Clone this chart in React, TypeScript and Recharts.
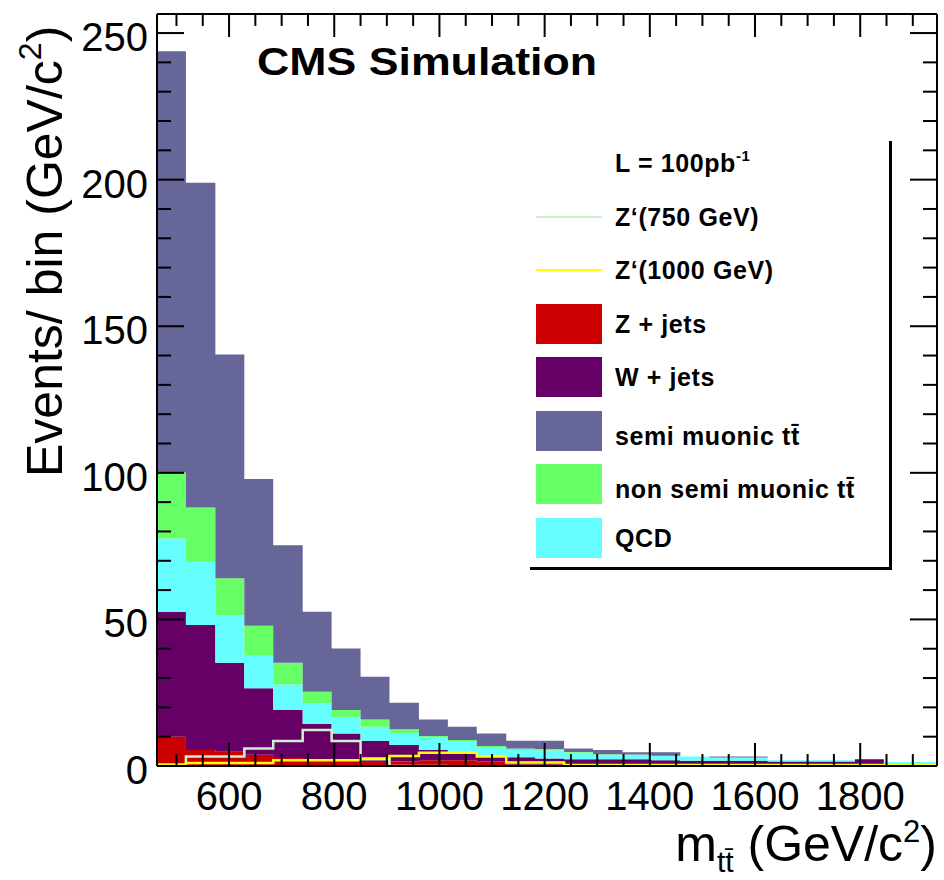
import React from 'react';
import { ComposedChart, Area, Line, Scatter, XAxis, YAxis, Legend } from 'recharts';

// lower bin edges in GeV (last entry closes the final bin)
const binEdges = [
  463, 518, 574, 629, 684, 740, 795, 850, 905, 961, 1016, 1071, 1127, 1182,
  1237, 1292, 1348, 1403, 1458, 1514, 1569, 1624, 1679, 1735, 1790, 1845, 1901, 1956,
];

// per-bin contributions, bottom of the stack first
const zJets = [10, 5.5, 4.9, 3.8, 2.7, 2.0, 2.0, 1.7, 1.5, 2.0, 2.0, 1.5, 0.5, 0.5, 0.4, 0.3, 0.3, 0.3, 0.2, 0.2, 0.2, 0.2, 0.2, 0.2, 0.2, 0.1, 0.1];
const wJets = [42.6, 42.6, 30.3, 22.7, 16.4, 12.3, 9.1, 6.9, 5.7, 3.5, 2.3, 1.9, 2.5, 2.1, 1.9, 2.0, 2.0, 1.7, 1.6, 1.6, 1.6, 1.3, 1.3, 1.3, 2.1, 0, 0];
const qcd = [25, 21.6, 16.1, 11.1, 8.7, 7.1, 5.5, 4.8, 3.9, 4.3, 4.0, 2.8, 2.5, 2.7, 2.2, 1.5, 1.5, 1.4, 1.4, 1.0, 1.0, 0.5, 0.5, 0.5, 0, 1.3, 1.3];
const nonSemiMuTT = [22.5, 18.5, 12.7, 10.2, 7.4, 3.9, 2.5, 2.5, 1.4, 0.4, 0.6, 0.6, 0.5, 0.5, 0.3, 0.2, 0.1, 0.1, 0, 0.1, 0.1, 0, 0, 0, 0, 0, 0];
const semiMuTT = [143.7, 110.7, 76.4, 50.1, 40.1, 27.3, 21.0, 14.5, 9.1, 5.7, 4.5, 4.3, 2.6, 2.8, 1.2, 1.5, 0.8, 1.2, 0, 0.3, 0.3, 0, 0, 0, 0, 0, 0];

// signal shapes (not stacked)
const zPrime1000 = [0.5, 1, 1, 1, 2, 2, 2, 2.6, 3.4, 4.5, 4.5, 3.2, 1.2, 1.2, 0.3, 0.3, 0.3, 0.3, 0.3, 0.3, 0.3, 0.3, 0.3, 0.3, 0.3, 0.3, 0.3];
const zPrime750FirstBin = 1;
const zPrime750 = [3.2, 3.2, 6.0, 8.5, 12.3, 8.5, 2.3, 0, 0];

const xMajor = [600, 800, 1000, 1200, 1400, 1600, 1800];
const xTicks = [500, 550, 600, 650, 700, 750, 800, 850, 900, 950, 1000, 1050, 1100, 1150, 1200, 1250, 1300, 1350, 1400, 1450, 1500, 1550, 1600, 1650, 1700, 1750, 1800, 1850, 1900];
const yMajor = [0, 50, 100, 150, 200, 250];
const yTicks = [0, 10, 20, 30, 40, 50, 60, 70, 80, 90, 100, 110, 120, 130, 140, 150, 160, 170, 180, 190, 200, 210, 220, 230, 240, 250];

const X_DOMAIN: [number, number] = [463, 1946];
const Y_DOMAIN: [number, number] = [0, 256.5];

const COLORS = {
  z: '#cc0000',
  w: '#660066',
  semi: '#666699',
  nonSemi: '#66ff66',
  qcd: '#66ffff',
  zp750: '#ccf2cc',
  zp1000: '#ffff00',
};

const FONT = '"Liberation Sans", Arial, Helvetica, sans-serif';
const TT = 't\u0074\u0304';
const black2 = { stroke: '#000', strokeWidth: 2 };

const rows = binEdges.map((m, i) => {
  const b = Math.min(i, zJets.length - 1);
  return {
    m,
    zJets: zJets[b],
    wJets: wJets[b],
    qcd: qcd[b],
    nonSemi: nonSemiMuTT[b],
    semi: semiMuTT[b],
    zp1000: zPrime1000[b],
  };
});

const zp750Rows = [
  { m: binEdges[zPrime750FirstBin], v: 0 },
  ...zPrime750.map((v, k) => ({ m: binEdges[zPrime750FirstBin + k], v })),
  { m: binEdges[zPrime750FirstBin + zPrime750.length], v: 0 },
];

// anchor points of the inward frame ticks, one set per frame side
const bottomMarks = xTicks.map((m) => ({ m, y: Y_DOMAIN[0], major: xMajor.includes(m) }));
const topMarks = xTicks.map((m) => ({ m, y: Y_DOMAIN[1], major: xMajor.includes(m) }));
const leftMarks = yTicks.map((y) => ({ m: X_DOMAIN[0], y, major: yMajor.includes(y) }));
const rightMarks = yTicks.map((y) => ({ m: X_DOMAIN[1], y, major: yMajor.includes(y) }));

const markShape = (dx: number, dy: number, minorScale: number) => (p: any) => {
  const k = p.payload && p.payload.major ? 1 : minorScale;
  return <path d={`M${p.cx},${p.cy}l${dx * k},${dy * k}`} {...black2} fill="none" />;
};

function yLabel(props: any) {
  const x = Number(props.x);
  const y = Number(props.y);
  return (
    <text x={x} y={y + 4} textAnchor="end" dominantBaseline="central" fontSize={40} fontFamily={FONT} fill="#000">
      {props.payload.value}
    </text>
  );
}

function xLabel(props: any) {
  const x = Number(props.x);
  const y = Number(props.y);
  return (
    <text x={x} y={y} textAnchor="middle" fontSize={40} fontFamily={FONT} fill="#000">
      {props.payload.value}
    </text>
  );
}

function XTitle() {
  return (
    <text x={937} y={861} textAnchor="end" fontSize={50} fontFamily={FONT} fill="#000">
      m
      <tspan fontSize={30} dy={11}>{TT}</tspan>
      <tspan dy={-11}> (GeV/c</tspan>
      <tspan fontSize={31} dy={-19}>2</tspan>
      <tspan dy={19}>)</tspan>
    </text>
  );
}

function YTitle() {
  return (
    <text transform="translate(62, 477) rotate(-90)" textAnchor="start" fontSize={50} fontFamily={FONT} fill="#000">
      Events/ bin (GeV/c
      <tspan fontSize={32} dy={-21}>2</tspan>
      <tspan dy={21}>)</tspan>
    </text>
  );
}

const legendEntries = [
  { label: 'L = 100pb', sup: '-1', kind: 'none', color: '' },
  { label: 'Z\u2018(750 GeV)', kind: 'line', color: COLORS.zp750 },
  { label: 'Z\u2018(1000 GeV)', kind: 'line', color: COLORS.zp1000 },
  { label: 'Z + jets', kind: 'box', color: COLORS.z },
  { label: 'W + jets', kind: 'box', color: COLORS.w },
  { label: `semi muonic ${TT}`, kind: 'box', color: COLORS.semi, shift: 5 },
  { label: `non semi muonic ${TT}`, kind: 'box', color: COLORS.nonSemi, shift: 5 },
  { label: 'QCD', kind: 'box', color: COLORS.qcd },
];

function LegendBox() {
  return (
    <div
      style={{
        position: 'relative',
        width: 359,
        height: 426,
        borderRight: '3px solid #000',
        borderBottom: '3px solid #000',
        fontFamily: FONT,
        fontWeight: 'bold',
        fontSize: 25,
        letterSpacing: 0.6,
        color: '#000',
      }}
    >
      {legendEntries.map((e, i) => (
        <div key={e.label} style={{ position: 'absolute', left: 0, top: 2 + i * 53.5, width: 359, height: 40 }}>
          {e.kind === 'box' && (
            <div style={{ position: 'absolute', left: 6, top: 0, width: 66, height: 40, background: e.color }} />
          )}
          {e.kind === 'line' && (
            <div style={{ position: 'absolute', left: 6, top: 19, width: 66, height: 2, background: e.color }} />
          )}
          <div
            style={{
              position: 'absolute',
              left: 85,
              top: e.shift || 0,
              height: 40,
              lineHeight: '40px',
              whiteSpace: 'nowrap',
            }}
          >
            {e.label}
            {e.sup && <sup style={{ fontSize: 15, verticalAlign: 'top', lineHeight: '26px' }}>{e.sup}</sup>}
          </div>
        </div>
      ))}
    </div>
  );
}

export default function App() {
  return (
    <div style={{ position: 'absolute', left: 0, top: 0, width: 944, height: 880, background: '#fff' }}>
      <ComposedChart width={944} height={880} data={rows} margin={{ top: 0, right: 0, bottom: 0, left: 0 }}>
        <Area type="stepAfter" dataKey="zJets" stackId="bg" fill={COLORS.z} fillOpacity={1} stroke="none" isAnimationActive={false} />
        <Area type="stepAfter" dataKey="wJets" stackId="bg" fill={COLORS.w} fillOpacity={1} stroke="none" isAnimationActive={false} />
        <Area type="stepAfter" dataKey="qcd" stackId="bg" fill={COLORS.qcd} fillOpacity={1} stroke="none" isAnimationActive={false} />
        <Area type="stepAfter" dataKey="nonSemi" stackId="bg" fill={COLORS.nonSemi} fillOpacity={1} stroke="none" isAnimationActive={false} />
        <Area type="stepAfter" dataKey="semi" stackId="bg" fill={COLORS.semi} fillOpacity={1} stroke="none" isAnimationActive={false} />
        <Line
          type="stepAfter"
          data={zp750Rows}
          dataKey="v"
          stroke={COLORS.zp750}
          strokeWidth={2.5}
          dot={false}
          activeDot={false}
          isAnimationActive={false}
        />
        <Line
          type="stepAfter"
          dataKey="zp1000"
          stroke={COLORS.zp1000}
          strokeWidth={2.5}
          dot={false}
          activeDot={false}
          isAnimationActive={false}
        />
        <Scatter data={bottomMarks} dataKey="y" shape={markShape(0, -23, 0.52)} legendType="none" isAnimationActive={false} />
        <Scatter data={topMarks} dataKey="y" shape={markShape(0, 23, 0.52)} legendType="none" isAnimationActive={false} />
        <Scatter data={leftMarks} dataKey="y" shape={markShape(27, 0, 0.52)} legendType="none" isAnimationActive={false} />
        <Scatter data={rightMarks} dataKey="y" shape={markShape(-27, 0, 0.52)} legendType="none" isAnimationActive={false} />
        <XAxis
          dataKey="m"
          type="number"
          domain={X_DOMAIN}
          allowDataOverflow
          ticks={xMajor}
          interval={0}
          height={114}
          tickSize={0}
          tickMargin={44}
          tickLine={false}
          tick={xLabel}
          axisLine={black2}
          label={<XTitle />}
        />
        <XAxis
          xAxisId="top"
          orientation="top"
          type="number"
          domain={X_DOMAIN}
          allowDataOverflow
          height={14}
          tick={false}
          tickLine={false}
          axisLine={black2}
        />
        <YAxis
          type="number"
          domain={Y_DOMAIN}
          allowDataOverflow
          ticks={yMajor}
          interval={0}
          width={157}
          tickSize={0}
          tickMargin={9}
          tickLine={false}
          tick={yLabel}
          axisLine={black2}
          label={<YTitle />}
        />
        <YAxis
          yAxisId="right"
          orientation="right"
          type="number"
          domain={Y_DOMAIN}
          allowDataOverflow
          width={7}
          tick={false}
          tickLine={false}
          axisLine={black2}
        />
        <Legend
          layout="vertical"
          align="center"
          verticalAlign="middle"
          content={() => <LegendBox />}
          wrapperStyle={{ left: 530, top: 141, width: 362, height: 429 }}
        />
      </ComposedChart>
      <svg width={944} height={880} style={{ position: 'absolute', left: 0, top: 0, pointerEvents: 'none' }}>
        <text x={257} y={75} fontSize={38} fontWeight="bold" fontFamily={FONT} textLength={340} lengthAdjust="spacingAndGlyphs" fill="#000">
          CMS Simulation
        </text>
      </svg>
    </div>
  );
}
